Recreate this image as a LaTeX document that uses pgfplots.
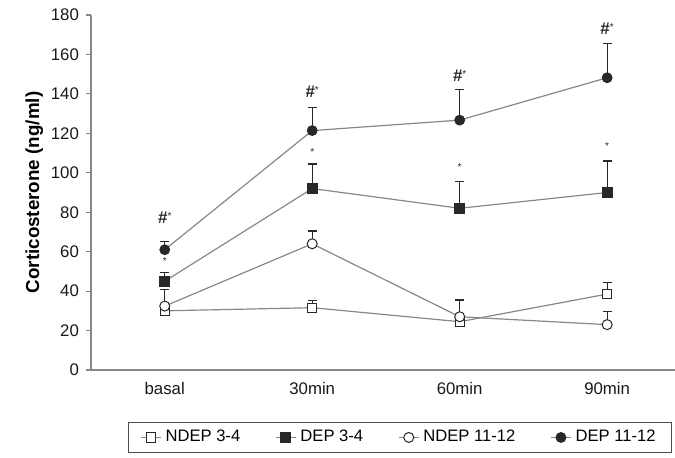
\documentclass[border=0pt]{standalone}
\usepackage{fontspec}
\setmainfont{Liberation Sans}
\usepackage{pgfplots}
\pgfplotsset{compat=1.18}
\definecolor{linegray}{RGB}{135,135,135}
\definecolor{markdark}{RGB}{40,40,40}
\newcommand{\hs}{\textbf{\#}\raisebox{2pt}{\fontsize{5}{6}\selectfont *}}
\begin{document}
\begin{tikzpicture}
\path[use as bounding box] (-45.5pt,-43.5pt) rectangle (292pt,185pt);
\begin{axis}[
  at={(0pt,0pt)}, anchor=south west,
  scale only axis, width=292pt, height=177.5pt,
  xmin=-0.5, xmax=3.46, ymin=0, ymax=180,
  axis lines=left,
  axis line style={-, draw=linegray, line width=0.6pt},
  xtick={0,1,2,3}, xticklabels={basal,30min,60min,90min},
  xtick style={draw=none},
  ytick={0,20,...,180},
  ytick style={draw=linegray, line width=0.6pt},
  tick align=outside, major tick length=2.5pt,
  /pgf/number format/assume math mode=true,
  tick label style={font=\fontsize{8.4}{10}\selectfont, text=black!90},
  xticklabel style={yshift=0pt},
  ylabel={\bfseries Corticosterone (ng/ml)},
  ylabel style={font=\fontsize{9.4}{11}\selectfont, yshift=-3pt},
  legend columns=4,
  legend style={at={(0.529,-0.19)}, anchor=center, draw=black!70,
    font=\fontsize{8.3}{10}\selectfont, inner xsep=6pt, inner ysep=2pt,
    /tikz/every even column/.append style={column sep=15.5pt}},
  legend image code/.code={
    \draw[linegray, line width=0.6pt] (0pt,0pt) -- (10pt,0pt);
    \draw[#1, draw=markdark] plot coordinates {(5pt,0pt)};
  },
  error bars/y dir=plus, error bars/y explicit,
  error bars/error bar style={draw=markdark, line width=0.6pt},
  error bars/error mark options={draw=markdark, line width=0.6pt, mark size=2.2pt, rotate=90},
  clip=false,
]
\addplot[linegray, line width=0.6pt, mark=square*, mark size=2.3pt,
  mark options={fill=white, draw=markdark, line width=0.5pt}]
  coordinates {(0,30) +- (0,3) (1,31.6) +- (0,3.5) (2,24.5) +- (0,1) (3,38.5) +- (0,6)};
\addlegendentry{NDEP 3-4}
\addplot[linegray, line width=0.6pt, mark=square*, mark size=2.5pt,
  mark options={fill=markdark, draw=markdark}]
  coordinates {(0,45) +- (0,4.5) (1,92) +- (0,12.5) (2,82) +- (0,13.5) (3,90) +- (0,16)};
\addlegendentry{DEP 3-4}
\addplot[linegray, line width=0.6pt, mark=*, mark size=2.5pt,
  mark options={fill=white, draw=markdark, line width=0.5pt}]
  coordinates {(0,32.4) +- (0,8.5) (1,64) +- (0,6.5) (2,27) +- (0,8.5) (3,23) +- (0,6.5)};
\addlegendentry{NDEP 11-12}
\addplot[linegray, line width=0.6pt, mark=*, mark size=2.4pt,
  mark options={fill=markdark, draw=markdark}]
  coordinates {(0,61) +- (0,4) (1,121.4) +- (0,11.5) (2,126.7) +- (0,15.5) (3,148.2) +- (0,17.5)};
\addlegendentry{DEP 11-12}
\node[font=\fontsize{8.5}{9}\selectfont, text=markdark] at (axis cs:0,77) {\hs};
\node[font=\fontsize{8.5}{9}\selectfont, text=markdark] at (axis cs:1,141) {\hs};
\node[font=\fontsize{8.5}{9}\selectfont, text=markdark] at (axis cs:2,149) {\hs};
\node[font=\fontsize{8.5}{9}\selectfont, text=markdark] at (axis cs:3,173) {\hs};
\node[font=\fontsize{5}{6}\selectfont, text=markdark] at (axis cs:0,55) {*};
\node[font=\fontsize{5}{6}\selectfont, text=markdark] at (axis cs:1,110.7) {*};
\node[font=\fontsize{5}{6}\selectfont, text=markdark] at (axis cs:2,103) {*};
\node[font=\fontsize{5}{6}\selectfont, text=markdark] at (axis cs:3,113.6) {*};
\end{axis}
\end{tikzpicture}
\end{document}
